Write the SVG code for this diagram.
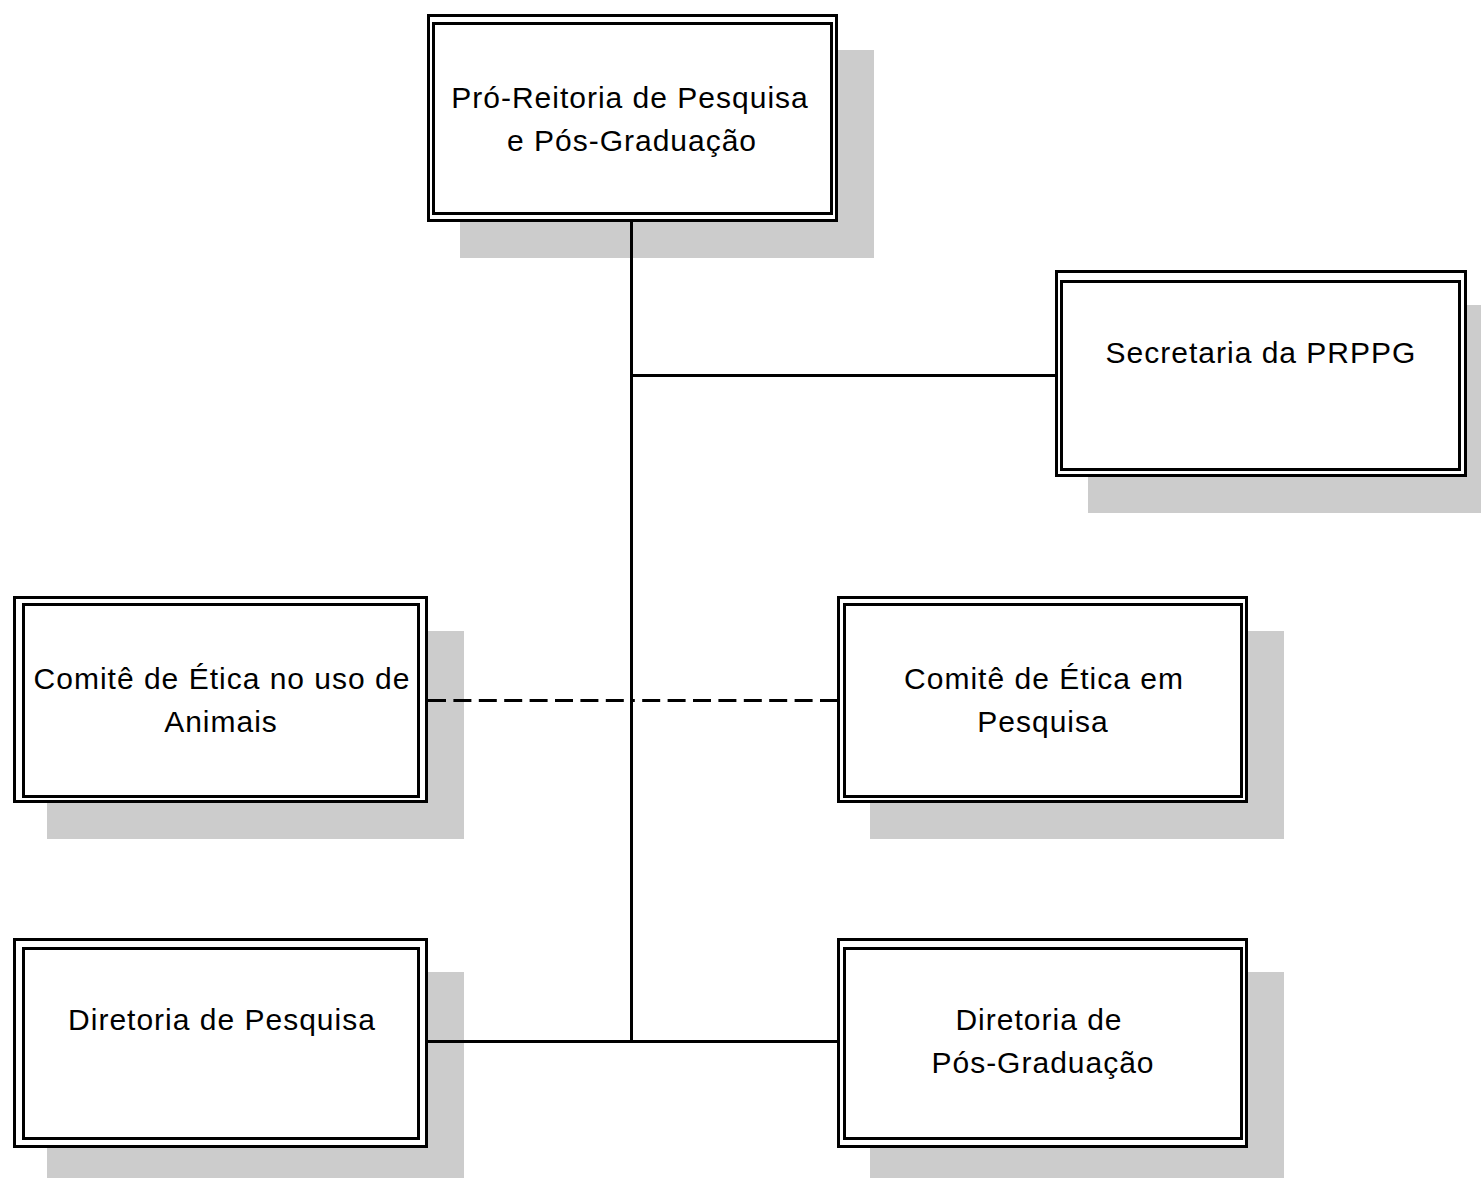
<svg xmlns="http://www.w3.org/2000/svg" width="1481" height="1178" viewBox="0 0 1481 1178">
  <style>
    .shadow { fill: #cccccc; }
    .frame { fill: #ffffff; stroke: #000000; stroke-width: 3; }
    .inner { fill: none; stroke: #000000; stroke-width: 3; }
    .label { font-family: "Liberation Sans", Arial, sans-serif; font-size: 30px; letter-spacing: 1px; fill: #000000; text-anchor: middle; }
    .link { fill: none; stroke: #000000; stroke-width: 3; }
    .dashed { stroke-dasharray: 18 7.4; }
  </style>
  <rect width="1481" height="1178" fill="#ffffff"/>

  <!-- Pró-Reitoria (top) -->
  <g id="prppg">
    <rect class="shadow" x="460" y="50" width="414" height="208"/>
    <rect class="frame" x="428.5" y="15.5" width="408" height="205"/>
    <rect class="inner" x="433.5" y="23.5" width="398" height="190"/>
    <text class="label" x="630" y="108">Pró-Reitoria de Pesquisa</text>
    <text class="label" x="632" y="151">e Pós-Graduação</text>
  </g>

  <!-- Secretaria -->
  <g id="secretaria">
    <rect class="shadow" x="1088" y="305" width="400" height="208"/>
    <rect class="frame" x="1056.5" y="271.5" width="409" height="204"/>
    <rect class="inner" x="1061.5" y="281.5" width="398" height="188"/>
    <text class="label" x="1261" y="363">Secretaria da PRPPG</text>
  </g>

  <!-- Comitê de Ética no uso de Animais -->
  <g id="ceua">
    <rect class="shadow" x="47" y="631" width="417" height="208"/>
    <rect class="frame" x="14.5" y="597.5" width="412" height="204"/>
    <rect class="inner" x="23.5" y="604.5" width="395" height="192"/>
    <text class="label" x="222" y="689">Comitê de Ética no uso de</text>
    <text class="label" x="221" y="732">Animais</text>
  </g>

  <!-- Comitê de Ética em Pesquisa -->
  <g id="cep">
    <rect class="shadow" x="870" y="631" width="414" height="208"/>
    <rect class="frame" x="838.5" y="597.5" width="408" height="204"/>
    <rect class="inner" x="844.5" y="604.5" width="397" height="192"/>
    <text class="label" x="1044" y="689">Comitê de Ética em</text>
    <text class="label" x="1043" y="732">Pesquisa</text>
  </g>

  <!-- Diretoria de Pesquisa -->
  <g id="dir-pesquisa">
    <rect class="shadow" x="47" y="972" width="417" height="206"/>
    <rect class="frame" x="14.5" y="939.5" width="412" height="207"/>
    <rect class="inner" x="23.5" y="948.5" width="395" height="190"/>
    <text class="label" x="222" y="1030">Diretoria de Pesquisa</text>
  </g>

  <!-- Diretoria de Pós-Graduação -->
  <g id="dir-pos">
    <rect class="shadow" x="870" y="972" width="414" height="206"/>
    <rect class="frame" x="838.5" y="939.5" width="408" height="207"/>
    <rect class="inner" x="844.5" y="948.5" width="397" height="190"/>
    <text class="label" x="1039" y="1030">Diretoria de</text>
    <text class="label" x="1043" y="1073">Pós-Graduação</text>
  </g>

  <!-- connectors -->
  <g id="connectors">
    <line class="link" x1="631.5" y1="222" x2="631.5" y2="1043"/>
    <line class="link" x1="630" y1="375.5" x2="1055" y2="375.5"/>
    <line class="link dashed" x1="428" y1="700.5" x2="630" y2="700.5"/>
    <line class="link dashed" x1="838" y1="700.5" x2="633" y2="700.5"/>
    <line class="link" x1="428" y1="1041.5" x2="837" y2="1041.5"/>
  </g>
</svg>
